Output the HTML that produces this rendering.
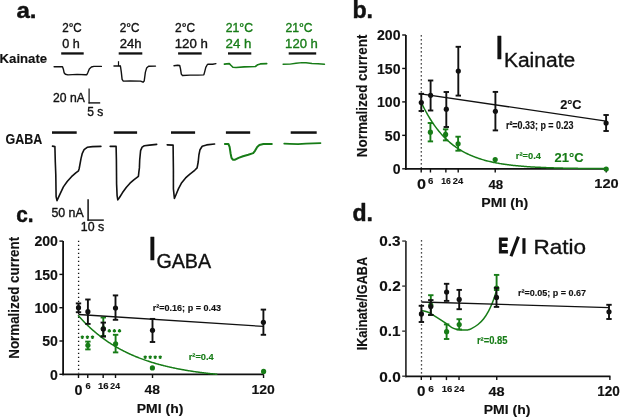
<!DOCTYPE html>
<html><head><meta charset="utf-8"><style>
html,body{margin:0;padding:0;background:#fff;}
body{width:621px;height:418px;overflow:hidden;}
svg{display:block;font-family:"Liberation Sans",sans-serif;will-change:transform;}
</style></head><body>
<svg width="621" height="418" viewBox="0 0 621 418">
<rect width="621" height="418" fill="#fff"/>
<text transform="translate(16.38,17.70) scale(0.2408,0.2259)" font-size="100" font-weight="bold" fill="#111" stroke="#111" stroke-width="1.93" stroke-linejoin="round" >a.</text>
<text transform="translate(-0.46,62.50) scale(0.1319,0.1283)" font-size="100" font-weight="bold" fill="#111" stroke="#111" stroke-width="1.08" stroke-linejoin="round" >Kainate</text>
<text transform="translate(5.50,143.70) scale(0.1249,0.1386)" font-size="100" font-weight="bold" fill="#111" stroke="#111" stroke-width="1.06" stroke-linejoin="round" >GABA</text>
<text transform="translate(62.22,31.60) scale(0.1164,0.1229)" font-size="100" font-weight="normal" fill="#111" stroke="#111" stroke-width="3.01" stroke-linejoin="round" >2°C</text>
<text transform="translate(62.20,48.40) scale(0.1261,0.1338)" font-size="100" font-weight="normal" fill="#111" stroke="#111" stroke-width="2.77" stroke-linejoin="round" >0 h</text>
<text transform="translate(119.71,31.60) scale(0.1176,0.1229)" font-size="100" font-weight="normal" fill="#111" stroke="#111" stroke-width="2.99" stroke-linejoin="round" >2°C</text>
<text transform="translate(119.65,48.40) scale(0.1310,0.1338)" font-size="100" font-weight="normal" fill="#111" stroke="#111" stroke-width="2.72" stroke-linejoin="round" >24h</text>
<text transform="translate(175.10,31.60) scale(0.1195,0.1229)" font-size="100" font-weight="normal" fill="#111" stroke="#111" stroke-width="2.97" stroke-linejoin="round" >2°C</text>
<text transform="translate(174.71,48.40) scale(0.1326,0.1338)" font-size="100" font-weight="normal" fill="#111" stroke="#111" stroke-width="2.70" stroke-linejoin="round" >120 h</text>
<text transform="translate(225.79,31.60) scale(0.1221,0.1229)" font-size="100" font-weight="normal" fill="#177c17" stroke="#177c17" stroke-width="2.94" stroke-linejoin="round" >21°C</text>
<text transform="translate(225.54,48.40) scale(0.1328,0.1338)" font-size="100" font-weight="normal" fill="#177c17" stroke="#177c17" stroke-width="2.70" stroke-linejoin="round" >24 h</text>
<text transform="translate(285.49,31.60) scale(0.1212,0.1229)" font-size="100" font-weight="normal" fill="#177c17" stroke="#177c17" stroke-width="2.95" stroke-linejoin="round" >21°C</text>
<text transform="translate(285.12,48.40) scale(0.1309,0.1338)" font-size="100" font-weight="normal" fill="#177c17" stroke="#177c17" stroke-width="2.72" stroke-linejoin="round" >120 h</text>
<rect x="61.20" y="52.30" width="22.50" height="2.30" fill="#111"/>
<rect x="118.70" y="52.30" width="23.60" height="2.30" fill="#111"/>
<rect x="178.10" y="52.30" width="23.60" height="2.30" fill="#111"/>
<rect x="228.00" y="52.30" width="23.30" height="2.30" fill="#111"/>
<rect x="288.70" y="52.30" width="27.50" height="2.30" fill="#111"/>
<rect x="52.00" y="131.30" width="24.70" height="2.50" fill="#111"/>
<rect x="113.80" y="131.30" width="23.30" height="2.50" fill="#111"/>
<rect x="171.00" y="131.30" width="24.10" height="2.50" fill="#111"/>
<rect x="225.90" y="131.30" width="24.30" height="2.50" fill="#111"/>
<rect x="290.70" y="131.30" width="26.00" height="2.50" fill="#111"/>
<polyline points="54.10,66.80 62.50,66.80 63.30,68.90 64.10,72.70 65.40,74.30 67.90,74.90 77.10,74.40 85.50,74.80 86.80,74.80 88.00,72.20 89.30,68.90 91.40,67.00 93.90,66.40 101.40,66.40" fill="none" stroke="#111" stroke-width="1.4" stroke-linejoin="round" stroke-linecap="round" />
<polyline points="114.00,66.10 120.10,66.10" fill="none" stroke="#111" stroke-width="1.5" stroke-linejoin="round" stroke-linecap="round" />
<line x1="118.50" y1="61.20" x2="118.50" y2="66.10" stroke="#111" stroke-width="1.2" />
<polyline points="120.10,66.10 120.50,66.50 121.30,72.10 122.10,79.30 123.30,81.10 130.10,81.00 140.60,81.10 143.00,82.20 144.20,81.00 145.40,72.10 146.60,68.10 148.60,66.30 155.50,66.10" fill="none" stroke="#111" stroke-width="1.4" stroke-linejoin="round" stroke-linecap="round" />
<polyline points="174.00,65.70 177.60,65.30 179.70,65.50 180.50,68.90 181.30,74.10 182.50,75.50 190.10,75.10 198.20,75.10 203.80,74.90 204.60,72.10 205.80,67.30 207.40,64.50 208.60,64.10 212.70,64.20 215.90,63.60" fill="none" stroke="#111" stroke-width="1.4" stroke-linejoin="round" stroke-linecap="round" />
<polyline points="224.40,64.10 229.30,63.60 230.90,65.30 232.90,67.30 236.10,67.50 244.20,66.90 255.40,66.50 257.80,64.70 260.30,63.90 266.70,63.60" fill="none" stroke="#177c17" stroke-width="1.6" stroke-linejoin="round" stroke-linecap="round" />
<polyline points="283.10,64.30 290.00,64.10 296.00,63.30 302.00,62.60 306.00,62.80 312.00,63.50 318.00,63.80 324.50,64.30" fill="none" stroke="#177c17" stroke-width="1.4" stroke-linejoin="round" stroke-linecap="round" />
<text transform="translate(53.09,101.90) scale(0.1215,0.1243)" font-size="100" font-weight="normal" fill="#111" stroke="#111" stroke-width="2.93" stroke-linejoin="round" >20 nA</text>
<text transform="translate(87.22,115.70) scale(0.1206,0.1232)" font-size="100" font-weight="normal" fill="#111" stroke="#111" stroke-width="2.95" stroke-linejoin="round" >5 s</text>
<line x1="89.10" y1="88.40" x2="89.10" y2="103.40" stroke="#222" stroke-width="1.3" />
<line x1="88.50" y1="102.90" x2="100.20" y2="102.90" stroke="#111" stroke-width="1.4" />
<polyline points="52.50,146.10 54.90,146.60 55.30,162.00 55.80,175.00 56.10,196.60 57.00,200.60 58.60,197.10 60.80,192.30 63.40,186.90 67.20,181.50 71.50,176.70 75.80,172.90 78.50,170.80 79.20,168.50 81.00,158.60 82.30,153.30 84.10,149.70 87.20,147.30 92.50,146.60 100.90,146.40" fill="none" stroke="#111" stroke-width="1.6" stroke-linejoin="round" stroke-linecap="round" />
<polyline points="110.20,146.40 116.10,146.20 116.40,160.00 116.60,184.10 117.10,195.60 117.80,199.90 119.50,197.50 122.40,192.80 126.20,187.50 130.00,183.20 133.80,179.80 138.40,176.30 138.80,172.70 139.40,167.90 139.70,160.00 140.60,150.60 142.10,147.10 144.30,145.80 149.60,145.10 156.70,144.40" fill="none" stroke="#111" stroke-width="1.6" stroke-linejoin="round" stroke-linecap="round" />
<polyline points="167.20,144.90 173.10,145.10 173.40,170.00 173.40,188.90 174.40,198.50 176.00,194.70 178.40,188.90 181.70,182.70 185.60,177.90 189.90,174.10 194.70,170.30 197.10,167.90 198.20,162.00 198.90,155.00 200.00,149.70 202.20,146.20 206.60,144.90 214.60,144.00" fill="none" stroke="#111" stroke-width="1.6" stroke-linejoin="round" stroke-linecap="round" />
<polyline points="224.90,144.00 228.40,144.00 229.60,146.90 230.60,153.50 231.50,157.90 232.80,159.70 235.10,159.70 238.60,157.90 243.00,156.20 248.30,154.70 253.20,153.10 255.00,150.80 257.20,146.90 259.40,144.90 263.40,144.00 271.80,144.00" fill="none" stroke="#177c17" stroke-width="2.0" stroke-linejoin="round" stroke-linecap="round" />
<polyline points="284.20,143.60 290.00,143.90 298.00,144.20 306.00,143.60 313.00,143.30 320.50,143.10" fill="none" stroke="#177c17" stroke-width="1.7" stroke-linejoin="round" stroke-linecap="round" />
<text transform="translate(51.41,216.70) scale(0.1237,0.1243)" font-size="100" font-weight="normal" fill="#111" stroke="#111" stroke-width="2.90" stroke-linejoin="round" >50 nA</text>
<text transform="translate(80.87,230.70) scale(0.1236,0.1229)" font-size="100" font-weight="normal" fill="#111" stroke="#111" stroke-width="2.92" stroke-linejoin="round" >10 s</text>
<line x1="88.10" y1="199.30" x2="88.10" y2="220.80" stroke="#111" stroke-width="1.5" />
<line x1="87.50" y1="220.10" x2="103.80" y2="220.10" stroke="#111" stroke-width="1.4" />
<text transform="translate(352.39,17.70) scale(0.2318,0.2331)" font-size="100" font-weight="bold" fill="#111" stroke="#111" stroke-width="1.94" stroke-linejoin="round" >b.</text>
<line x1="405.90" y1="35.00" x2="405.90" y2="169.70" stroke="#111" stroke-width="1.8" />
<line x1="405.00" y1="168.80" x2="606.24" y2="168.80" stroke="#111" stroke-width="1.8" />
<line x1="402.20" y1="168.80" x2="405.90" y2="168.80" stroke="#111" stroke-width="1.4" />
<line x1="402.20" y1="135.35" x2="405.90" y2="135.35" stroke="#111" stroke-width="1.4" />
<line x1="402.20" y1="101.90" x2="405.90" y2="101.90" stroke="#111" stroke-width="1.4" />
<line x1="402.20" y1="68.45" x2="405.90" y2="68.45" stroke="#111" stroke-width="1.4" />
<line x1="402.20" y1="35.00" x2="405.90" y2="35.00" stroke="#111" stroke-width="1.4" />
<line x1="421.20" y1="168.80" x2="421.20" y2="172.50" stroke="#111" stroke-width="1.4" />
<line x1="430.45" y1="168.80" x2="430.45" y2="172.50" stroke="#111" stroke-width="1.4" />
<line x1="445.87" y1="168.80" x2="445.87" y2="172.50" stroke="#111" stroke-width="1.4" />
<line x1="458.21" y1="168.80" x2="458.21" y2="172.50" stroke="#111" stroke-width="1.4" />
<line x1="495.22" y1="168.80" x2="495.22" y2="172.50" stroke="#111" stroke-width="1.4" />
<line x1="606.24" y1="168.80" x2="606.24" y2="172.50" stroke="#111" stroke-width="1.4" />
<line x1="421.30" y1="35.15" x2="421.30" y2="168.00" stroke="#111" stroke-width="1.3" stroke-dasharray="1.3 2.7"/>
<text transform="translate(367.20,156.30) rotate(-90) translate(-0.88,0) scale(0.1347,0.1448)" font-size="100" font-weight="bold" fill="#111" stroke="#111" stroke-width="0.86" stroke-linejoin="round">Normalized current</text>
<text transform="translate(376.99,40.20) scale(0.1410,0.1386)" font-size="100" font-weight="bold" fill="#111" stroke="#111" stroke-width="1.00" stroke-linejoin="round" >200</text>
<text transform="translate(376.99,73.65) scale(0.1410,0.1386)" font-size="100" font-weight="bold" fill="#111" stroke="#111" stroke-width="1.00" stroke-linejoin="round" >150</text>
<text transform="translate(376.99,107.10) scale(0.1410,0.1386)" font-size="100" font-weight="bold" fill="#111" stroke="#111" stroke-width="1.00" stroke-linejoin="round" >100</text>
<text transform="translate(384.81,140.55) scale(0.1410,0.1386)" font-size="100" font-weight="bold" fill="#111" stroke="#111" stroke-width="1.00" stroke-linejoin="round" >50</text>
<text transform="translate(392.64,174.00) scale(0.1410,0.1386)" font-size="100" font-weight="bold" fill="#111" stroke="#111" stroke-width="1.00" stroke-linejoin="round" >0</text>
<text transform="translate(417.05,188.70) scale(0.1621,0.1514)" font-size="100" font-weight="bold" fill="#111" stroke="#111" stroke-width="0.89" stroke-linejoin="round" >0</text>
<text transform="translate(428.06,183.70) scale(0.0969,0.0957)" font-size="100" font-weight="bold" fill="#111" stroke="#111" stroke-width="1.45" stroke-linejoin="round" >6</text>
<text transform="translate(441.29,183.60) scale(0.0857,0.0886)" font-size="100" font-weight="bold" fill="#111" stroke="#111" stroke-width="1.61" stroke-linejoin="round" >16</text>
<text transform="translate(452.77,183.60) scale(0.0935,0.0886)" font-size="100" font-weight="bold" fill="#111" stroke="#111" stroke-width="1.54" stroke-linejoin="round" >24</text>
<text transform="translate(488.40,188.60) scale(0.1324,0.1300)" font-size="100" font-weight="bold" fill="#111" stroke="#111" stroke-width="1.07" stroke-linejoin="round" >48</text>
<text transform="translate(594.32,188.20) scale(0.1463,0.1300)" font-size="100" font-weight="bold" fill="#111" stroke="#111" stroke-width="1.01" stroke-linejoin="round" >120</text>
<text transform="translate(481.28,206.60) scale(0.1413,0.1228)" font-size="100" font-weight="bold" fill="#111" stroke="#111" stroke-width="1.06" stroke-linejoin="round" >PMI (h)</text>
<text transform="translate(494.28,58.50) scale(0.3684,0.3290)" font-size="100" font-weight="normal" fill="#111" stroke="#111" stroke-width="1.03" stroke-linejoin="round" >I</text>
<text transform="translate(503.92,67.00) scale(0.2101,0.2041)" font-size="100" font-weight="normal" fill="#111" stroke="#111" stroke-width="1.74" stroke-linejoin="round" >Kainate</text>
<text transform="translate(560.15,109.10) scale(0.1276,0.1286)" font-size="100" font-weight="bold" fill="#111" stroke="#111" stroke-width="1.09" stroke-linejoin="round" >2°C</text>
<text transform="translate(505.92,129.10) scale(0.0894,0.1043)" font-size="100" font-weight="bold" fill="#111" stroke="#111" stroke-width="1.45" stroke-linejoin="round" >r²=0.33; p = 0.23</text>
<text transform="translate(515.79,159.10) scale(0.0933,0.0971)" font-size="100" font-weight="bold" fill="#177c17" stroke="#177c17" stroke-width="1.47" stroke-linejoin="round" >r²=0.4</text>
<text transform="translate(554.55,161.60) scale(0.1295,0.1271)" font-size="100" font-weight="bold" fill="#177c17" stroke="#177c17" stroke-width="1.09" stroke-linejoin="round" >21°C</text>
<polyline points="421.20,102.23 422.13,104.20 423.06,106.11 423.99,107.97 424.92,109.77 425.85,111.52 426.78,113.21 427.71,114.85 428.64,116.45 429.57,118.00 430.50,119.50 431.43,120.96 432.36,122.38 433.29,123.75 434.22,125.08 435.15,126.38 436.08,127.63 437.01,128.85 437.94,130.03 438.87,131.18 439.80,132.29 440.73,133.37 441.66,134.42 442.59,135.44 443.52,136.42 444.45,137.38 445.38,138.31 446.31,139.21 447.24,140.09 448.17,140.94 449.10,141.76 450.03,142.56 450.96,143.34 451.89,144.09 452.81,144.82 453.74,145.53 454.67,146.22 455.60,146.89 456.53,147.54 457.46,148.16 458.39,148.78 459.32,149.37 460.25,149.94 461.18,150.50 462.11,151.04 463.04,151.57 463.97,152.08 464.90,152.57 465.83,153.05 466.76,153.52 467.69,153.97 468.62,154.41 469.55,154.83 470.48,155.25 471.41,155.65 472.34,156.04 473.27,156.41 474.20,156.78 475.13,157.14 476.06,157.48 476.99,157.82 477.92,158.14 478.85,158.46 479.78,158.76 480.71,159.06 481.64,159.35 482.57,159.63 483.50,159.90 484.43,160.16 485.36,160.42 486.29,160.67 487.22,160.91 488.15,161.14 489.08,161.37 490.01,161.59 490.94,161.80 491.87,162.01 492.80,162.21 493.73,162.40 494.66,162.59 495.59,162.78 496.52,162.95 497.45,163.13 498.38,163.29 499.31,163.46 500.24,163.62 501.17,163.77 502.10,163.92 503.03,164.06 503.96,164.20 504.89,164.34 505.82,164.47 506.75,164.60 507.68,164.72 508.61,164.84 509.54,164.96 510.47,165.07 511.40,165.18 512.33,165.29 513.26,165.40 514.18,165.50 515.11,165.59 516.04,165.69 516.97,165.78 517.90,165.87 518.83,165.96 519.76,166.04 520.69,166.12 521.62,166.20 522.55,166.28 523.48,166.35 524.41,166.43 525.34,166.50 526.27,166.56 527.20,166.63 528.13,166.69 529.06,166.76 529.99,166.82 530.92,166.88 531.85,166.93 532.78,166.99 533.71,167.04 534.64,167.09 535.57,167.14 536.50,167.19 537.43,167.24 538.36,167.29 539.29,167.33 540.22,167.37 541.15,167.42 542.08,167.46 543.01,167.50 543.94,167.54 544.87,167.57 545.80,167.61 546.73,167.64 547.66,167.68 548.59,167.71 549.52,167.74 550.45,167.78 551.38,167.81 552.31,167.84 553.24,167.86 554.17,167.89 555.10,167.92 556.03,167.94 556.96,167.97 557.89,167.99 558.82,168.02 559.75,168.04 560.68,168.06 561.61,168.09 562.54,168.11 563.47,168.13 564.40,168.15 565.33,168.17 566.26,168.19 567.19,168.20 568.12,168.22 569.05,168.24 569.98,168.25 570.91,168.27 571.84,168.29 572.77,168.30 573.70,168.32 574.63,168.33 575.55,168.34 576.48,168.36 577.41,168.37 578.34,168.38 579.27,168.40 580.20,168.41 581.13,168.42 582.06,168.43 582.99,168.44 583.92,168.45 584.85,168.46 585.78,168.47 586.71,168.48 587.64,168.49 588.57,168.50 589.50,168.51 590.43,168.52 591.36,168.53 592.29,168.53 593.22,168.54 594.15,168.55 595.08,168.56 596.01,168.56 596.94,168.57 597.87,168.58 598.80,168.59 599.73,168.59 600.66,168.60 601.59,168.60 602.52,168.61 603.45,168.62 604.38,168.62 605.31,168.63 606.24,168.63" fill="none" stroke="#177c17" stroke-width="1.5" stroke-linejoin="round" stroke-linecap="round" />
<line x1="430.40" y1="123.00" x2="430.40" y2="141.40" stroke="#177c17" stroke-width="1.9" />
<line x1="427.70" y1="123.00" x2="433.10" y2="123.00" stroke="#177c17" stroke-width="1.9" />
<line x1="427.70" y1="141.40" x2="433.10" y2="141.40" stroke="#177c17" stroke-width="1.9" />
<circle cx="430.40" cy="132.20" r="2.6" fill="#177c17"/>
<line x1="445.60" y1="129.30" x2="445.60" y2="140.40" stroke="#177c17" stroke-width="1.9" />
<line x1="442.90" y1="129.30" x2="448.30" y2="129.30" stroke="#177c17" stroke-width="1.9" />
<line x1="442.90" y1="140.40" x2="448.30" y2="140.40" stroke="#177c17" stroke-width="1.9" />
<circle cx="445.60" cy="134.40" r="2.6" fill="#177c17"/>
<line x1="458.10" y1="136.70" x2="458.10" y2="150.70" stroke="#177c17" stroke-width="1.9" />
<line x1="455.40" y1="136.70" x2="460.80" y2="136.70" stroke="#177c17" stroke-width="1.9" />
<line x1="455.40" y1="150.70" x2="460.80" y2="150.70" stroke="#177c17" stroke-width="1.9" />
<circle cx="458.10" cy="143.80" r="2.6" fill="#177c17"/>
<circle cx="495.20" cy="159.50" r="2.6" fill="#177c17"/>
<circle cx="606.20" cy="169.00" r="2.6" fill="#177c17"/>
<line x1="419.00" y1="93.60" x2="606.20" y2="121.10" stroke="#111" stroke-width="1.3" />
<line x1="421.30" y1="93.80" x2="421.30" y2="111.00" stroke="#111" stroke-width="1.9" />
<line x1="418.60" y1="93.80" x2="424.00" y2="93.80" stroke="#111" stroke-width="1.9" />
<line x1="418.60" y1="111.00" x2="424.00" y2="111.00" stroke="#111" stroke-width="1.9" />
<circle cx="421.30" cy="102.60" r="2.6" fill="#111"/>
<line x1="430.60" y1="80.50" x2="430.60" y2="110.50" stroke="#111" stroke-width="1.9" />
<line x1="427.90" y1="80.50" x2="433.30" y2="80.50" stroke="#111" stroke-width="1.9" />
<line x1="427.90" y1="110.50" x2="433.30" y2="110.50" stroke="#111" stroke-width="1.9" />
<circle cx="430.60" cy="95.30" r="2.6" fill="#111"/>
<line x1="446.30" y1="92.00" x2="446.30" y2="127.00" stroke="#111" stroke-width="1.9" />
<line x1="443.60" y1="92.00" x2="449.00" y2="92.00" stroke="#111" stroke-width="1.9" />
<line x1="443.60" y1="127.00" x2="449.00" y2="127.00" stroke="#111" stroke-width="1.9" />
<circle cx="446.30" cy="109.20" r="2.6" fill="#111"/>
<line x1="458.30" y1="46.80" x2="458.30" y2="95.60" stroke="#111" stroke-width="1.9" />
<line x1="455.60" y1="46.80" x2="461.00" y2="46.80" stroke="#111" stroke-width="1.9" />
<line x1="455.60" y1="95.60" x2="461.00" y2="95.60" stroke="#111" stroke-width="1.9" />
<circle cx="458.30" cy="71.10" r="2.6" fill="#111"/>
<line x1="495.40" y1="91.90" x2="495.40" y2="130.40" stroke="#111" stroke-width="1.9" />
<line x1="492.70" y1="91.90" x2="498.10" y2="91.90" stroke="#111" stroke-width="1.9" />
<line x1="492.70" y1="130.40" x2="498.10" y2="130.40" stroke="#111" stroke-width="1.9" />
<circle cx="495.40" cy="111.30" r="2.6" fill="#111"/>
<line x1="606.10" y1="115.00" x2="606.10" y2="131.00" stroke="#111" stroke-width="1.9" />
<line x1="603.40" y1="115.00" x2="608.80" y2="115.00" stroke="#111" stroke-width="1.9" />
<line x1="603.40" y1="131.00" x2="608.80" y2="131.00" stroke="#111" stroke-width="1.9" />
<circle cx="606.10" cy="123.00" r="2.6" fill="#111"/>
<text transform="translate(16.27,221.90) scale(0.2083,0.2259)" font-size="100" font-weight="bold" fill="#111" stroke="#111" stroke-width="2.07" stroke-linejoin="round" >c.</text>
<line x1="63.10" y1="241.10" x2="63.10" y2="375.20" stroke="#111" stroke-width="1.8" />
<line x1="62.20" y1="374.30" x2="263.54" y2="374.30" stroke="#111" stroke-width="1.8" />
<line x1="59.40" y1="374.30" x2="63.10" y2="374.30" stroke="#111" stroke-width="1.4" />
<line x1="59.40" y1="341.00" x2="63.10" y2="341.00" stroke="#111" stroke-width="1.4" />
<line x1="59.40" y1="307.70" x2="63.10" y2="307.70" stroke="#111" stroke-width="1.4" />
<line x1="59.40" y1="274.40" x2="63.10" y2="274.40" stroke="#111" stroke-width="1.4" />
<line x1="59.40" y1="241.10" x2="63.10" y2="241.10" stroke="#111" stroke-width="1.4" />
<line x1="78.50" y1="374.30" x2="78.50" y2="378.00" stroke="#111" stroke-width="1.4" />
<line x1="87.75" y1="374.30" x2="87.75" y2="378.00" stroke="#111" stroke-width="1.4" />
<line x1="103.17" y1="374.30" x2="103.17" y2="378.00" stroke="#111" stroke-width="1.4" />
<line x1="115.51" y1="374.30" x2="115.51" y2="378.00" stroke="#111" stroke-width="1.4" />
<line x1="152.52" y1="374.30" x2="152.52" y2="378.00" stroke="#111" stroke-width="1.4" />
<line x1="263.54" y1="374.30" x2="263.54" y2="378.00" stroke="#111" stroke-width="1.4" />
<line x1="78.60" y1="240.65" x2="78.60" y2="373.50" stroke="#111" stroke-width="1.3" stroke-dasharray="1.3 2.7"/>
<text transform="translate(19.40,357.90) rotate(-90) translate(-0.87,0) scale(0.1339,0.1421)" font-size="100" font-weight="bold" fill="#111" stroke="#111" stroke-width="0.87" stroke-linejoin="round">Normalized current</text>
<text transform="translate(34.39,246.30) scale(0.1410,0.1386)" font-size="100" font-weight="bold" fill="#111" stroke="#111" stroke-width="1.00" stroke-linejoin="round" >200</text>
<text transform="translate(34.39,279.60) scale(0.1410,0.1386)" font-size="100" font-weight="bold" fill="#111" stroke="#111" stroke-width="1.00" stroke-linejoin="round" >150</text>
<text transform="translate(34.39,312.90) scale(0.1410,0.1386)" font-size="100" font-weight="bold" fill="#111" stroke="#111" stroke-width="1.00" stroke-linejoin="round" >100</text>
<text transform="translate(42.21,346.20) scale(0.1410,0.1386)" font-size="100" font-weight="bold" fill="#111" stroke="#111" stroke-width="1.00" stroke-linejoin="round" >50</text>
<text transform="translate(50.04,379.50) scale(0.1410,0.1386)" font-size="100" font-weight="bold" fill="#111" stroke="#111" stroke-width="1.00" stroke-linejoin="round" >0</text>
<text transform="translate(74.53,394.80) scale(0.1432,0.1400)" font-size="100" font-weight="bold" fill="#111" stroke="#111" stroke-width="0.99" stroke-linejoin="round" >0</text>
<text transform="translate(85.38,389.00) scale(0.0928,0.0829)" font-size="100" font-weight="bold" fill="#111" stroke="#111" stroke-width="1.59" stroke-linejoin="round" >6</text>
<text transform="translate(98.03,389.40) scale(0.0956,0.0886)" font-size="100" font-weight="bold" fill="#111" stroke="#111" stroke-width="1.52" stroke-linejoin="round" >16</text>
<text transform="translate(110.30,389.40) scale(0.0869,0.0886)" font-size="100" font-weight="bold" fill="#111" stroke="#111" stroke-width="1.60" stroke-linejoin="round" >24</text>
<text transform="translate(144.59,394.40) scale(0.1390,0.1357)" font-size="100" font-weight="bold" fill="#111" stroke="#111" stroke-width="1.02" stroke-linejoin="round" >48</text>
<text transform="translate(251.56,393.70) scale(0.1399,0.1357)" font-size="100" font-weight="bold" fill="#111" stroke="#111" stroke-width="1.02" stroke-linejoin="round" >120</text>
<text transform="translate(136.79,412.90) scale(0.1398,0.1269)" font-size="100" font-weight="bold" fill="#111" stroke="#111" stroke-width="1.05" stroke-linejoin="round" >PMI (h)</text>
<text transform="translate(147.28,259.80) scale(0.3684,0.3304)" font-size="100" font-weight="normal" fill="#111" stroke="#111" stroke-width="1.03" stroke-linejoin="round" >I</text>
<text transform="translate(156.41,267.90) scale(0.1971,0.2043)" font-size="100" font-weight="normal" fill="#111" stroke="#111" stroke-width="1.79" stroke-linejoin="round" >GABA</text>
<text transform="translate(152.71,310.80) scale(0.0905,0.0971)" font-size="100" font-weight="bold" fill="#111" stroke="#111" stroke-width="1.49" stroke-linejoin="round" >r²=0.16; p = 0.43</text>
<text transform="translate(188.70,360.20) scale(0.0930,0.0929)" font-size="100" font-weight="bold" fill="#177c17" stroke="#177c17" stroke-width="1.51" stroke-linejoin="round" >r²=0.4</text>
<polyline points="78.40,315.76 79.10,316.54 79.79,317.31 80.49,318.08 81.18,318.83 81.88,319.58 82.57,320.31 83.27,321.04 83.96,321.76 84.66,322.47 85.35,323.17 86.05,323.86 86.75,324.54 87.44,325.22 88.14,325.88 88.83,326.54 89.53,327.19 90.22,327.83 90.92,328.47 91.61,329.10 92.31,329.72 93.01,330.33 93.70,330.93 94.40,331.53 95.09,332.12 95.79,332.70 96.48,333.28 97.18,333.84 97.87,334.41 98.57,334.96 99.26,335.51 99.96,336.05 100.66,336.58 101.35,337.11 102.05,337.63 102.74,338.15 103.44,338.66 104.13,339.16 104.83,339.66 105.52,340.15 106.22,340.63 106.91,341.11 107.61,341.58 108.31,342.05 109.00,342.51 109.70,342.97 110.39,343.42 111.09,343.86 111.78,344.30 112.48,344.74 113.17,345.17 113.87,345.59 114.56,346.01 115.26,346.42 115.96,346.83 116.65,347.23 117.35,347.63 118.04,348.02 118.74,348.41 119.43,348.79 120.13,349.17 120.82,349.55 121.52,349.92 122.22,350.28 122.91,350.64 123.61,351.00 124.30,351.35 125.00,351.70 125.69,352.04 126.39,352.38 127.08,352.72 127.78,353.05 128.47,353.38 129.17,353.70 129.87,354.02 130.56,354.34 131.26,354.65 131.95,354.96 132.65,355.26 133.34,355.56 134.04,355.86 134.73,356.15 135.43,356.44 136.12,356.72 136.82,357.01 137.52,357.29 138.21,357.56 138.91,357.83 139.60,358.10 140.30,358.37 140.99,358.63 141.69,358.89 142.38,359.14 143.08,359.40 143.77,359.65 144.47,359.89 145.17,360.14 145.86,360.38 146.56,360.62 147.25,360.85 147.95,361.08 148.64,361.31 149.34,361.54 150.03,361.76 150.73,361.98 151.43,362.20 152.12,362.42 152.82,362.63 153.51,362.84 154.21,363.05 154.90,363.25 155.60,363.46 156.29,363.66 156.99,363.85 157.68,364.05 158.38,364.24 159.08,364.43 159.77,364.62 160.47,364.81 161.16,364.99 161.86,365.17 162.55,365.35 163.25,365.53 163.94,365.70 164.64,365.88 165.33,366.05 166.03,366.22 166.73,366.38 167.42,366.55 168.12,366.71 168.81,366.87 169.51,367.03 170.20,367.19 170.90,367.34 171.59,367.49 172.29,367.64 172.98,367.79 173.68,367.94 174.38,368.09 175.07,368.23 175.77,368.37 176.46,368.51 177.16,368.65 177.85,368.79 178.55,368.92 179.24,369.06 179.94,369.19 180.64,369.32 181.33,369.45 182.03,369.57 182.72,369.70 183.42,369.82 184.11,369.95 184.81,370.07 185.50,370.19 186.20,370.31 186.89,370.42 187.59,370.54 188.29,370.65 188.98,370.76 189.68,370.87 190.37,370.98 191.07,371.09 191.76,371.20 192.46,371.31 193.15,371.41 193.85,371.51 194.54,371.62 195.24,371.72 195.94,371.82 196.63,371.91 197.33,372.01 198.02,372.11 198.72,372.20 199.41,372.30 200.11,372.39 200.80,372.48 201.50,372.57 202.19,372.66 202.89,372.75 203.59,372.83 204.28,372.92 204.98,373.00 205.67,373.09 206.37,373.17 207.06,373.25 207.76,373.33 208.45,373.41 209.15,373.49 209.85,373.57 210.54,373.65 211.24,373.72 211.93,373.80 212.63,373.87 213.32,373.94 214.02,374.02 214.71,374.09 215.41,374.16 216.10,374.23 216.80,374.30" fill="none" stroke="#177c17" stroke-width="1.5" stroke-linejoin="round" stroke-linecap="round" />
<line x1="103.30" y1="317.50" x2="103.30" y2="336.00" stroke="#177c17" stroke-width="1.9" />
<line x1="100.60" y1="317.50" x2="106.00" y2="317.50" stroke="#177c17" stroke-width="1.9" />
<line x1="100.60" y1="336.00" x2="106.00" y2="336.00" stroke="#177c17" stroke-width="1.9" />
<circle cx="103.30" cy="328.50" r="2.6" fill="#177c17"/>
<line x1="87.90" y1="341.60" x2="87.90" y2="349.40" stroke="#177c17" stroke-width="1.9" />
<line x1="85.20" y1="341.60" x2="90.60" y2="341.60" stroke="#177c17" stroke-width="1.9" />
<line x1="85.20" y1="349.40" x2="90.60" y2="349.40" stroke="#177c17" stroke-width="1.9" />
<circle cx="87.90" cy="345.30" r="2.6" fill="#177c17"/>
<line x1="115.60" y1="334.80" x2="115.60" y2="352.40" stroke="#177c17" stroke-width="1.9" />
<line x1="112.90" y1="334.80" x2="118.30" y2="334.80" stroke="#177c17" stroke-width="1.9" />
<line x1="112.90" y1="352.40" x2="118.30" y2="352.40" stroke="#177c17" stroke-width="1.9" />
<circle cx="115.60" cy="343.80" r="2.6" fill="#177c17"/>
<circle cx="152.40" cy="367.90" r="2.6" fill="#177c17"/>
<circle cx="263.60" cy="371.40" r="2.6" fill="#177c17"/>
<path d="M82.30,335.45L82.30,338.95M80.78,336.32L83.82,338.07M80.78,338.07L83.82,336.32" stroke="#177c17" stroke-width="1.25" fill="none"/>
<circle cx="82.30" cy="337.20" r="1.0" fill="#177c17"/>
<path d="M87.40,335.45L87.40,338.95M85.88,336.32L88.92,338.07M85.88,338.07L88.92,336.32" stroke="#177c17" stroke-width="1.25" fill="none"/>
<circle cx="87.40" cy="337.20" r="1.0" fill="#177c17"/>
<path d="M92.50,335.45L92.50,338.95M90.98,336.32L94.02,338.07M90.98,338.07L94.02,336.32" stroke="#177c17" stroke-width="1.25" fill="none"/>
<circle cx="92.50" cy="337.20" r="1.0" fill="#177c17"/>
<path d="M109.30,329.05L109.30,332.55M107.78,329.93L110.82,331.68M107.78,331.68L110.82,329.93" stroke="#177c17" stroke-width="1.25" fill="none"/>
<circle cx="109.30" cy="330.80" r="1.0" fill="#177c17"/>
<path d="M114.40,329.05L114.40,332.55M112.88,329.93L115.92,331.68M112.88,331.68L115.92,329.93" stroke="#177c17" stroke-width="1.25" fill="none"/>
<circle cx="114.40" cy="330.80" r="1.0" fill="#177c17"/>
<path d="M119.50,329.05L119.50,332.55M117.98,329.93L121.02,331.68M117.98,331.68L121.02,329.93" stroke="#177c17" stroke-width="1.25" fill="none"/>
<circle cx="119.50" cy="330.80" r="1.0" fill="#177c17"/>
<path d="M145.20,355.45L145.20,358.95M143.68,356.32L146.72,358.07M143.68,358.07L146.72,356.32" stroke="#177c17" stroke-width="1.25" fill="none"/>
<circle cx="145.20" cy="357.20" r="1.0" fill="#177c17"/>
<path d="M150.20,355.45L150.20,358.95M148.68,356.32L151.72,358.07M148.68,358.07L151.72,356.32" stroke="#177c17" stroke-width="1.25" fill="none"/>
<circle cx="150.20" cy="357.20" r="1.0" fill="#177c17"/>
<path d="M155.20,355.45L155.20,358.95M153.68,356.32L156.72,358.07M153.68,358.07L156.72,356.32" stroke="#177c17" stroke-width="1.25" fill="none"/>
<circle cx="155.20" cy="357.20" r="1.0" fill="#177c17"/>
<path d="M160.20,355.45L160.20,358.95M158.68,356.32L161.72,358.07M158.68,358.07L161.72,356.32" stroke="#177c17" stroke-width="1.25" fill="none"/>
<circle cx="160.20" cy="357.20" r="1.0" fill="#177c17"/>
<line x1="78.50" y1="314.50" x2="263.40" y2="326.40" stroke="#111" stroke-width="1.3" />
<line x1="78.50" y1="303.40" x2="78.50" y2="312.20" stroke="#111" stroke-width="1.9" />
<line x1="75.80" y1="303.40" x2="81.20" y2="303.40" stroke="#111" stroke-width="1.9" />
<line x1="75.80" y1="312.20" x2="81.20" y2="312.20" stroke="#111" stroke-width="1.9" />
<circle cx="78.50" cy="307.70" r="2.6" fill="#111"/>
<line x1="87.90" y1="299.50" x2="87.90" y2="323.90" stroke="#111" stroke-width="1.9" />
<line x1="85.20" y1="299.50" x2="90.60" y2="299.50" stroke="#111" stroke-width="1.9" />
<line x1="85.20" y1="323.90" x2="90.60" y2="323.90" stroke="#111" stroke-width="1.9" />
<circle cx="87.90" cy="311.70" r="2.6" fill="#111"/>
<line x1="103.30" y1="322.60" x2="103.30" y2="336.60" stroke="#111" stroke-width="1.9" />
<line x1="100.60" y1="322.60" x2="106.00" y2="322.60" stroke="#111" stroke-width="1.9" />
<line x1="100.60" y1="336.60" x2="106.00" y2="336.60" stroke="#111" stroke-width="1.9" />
<circle cx="103.30" cy="329.00" r="2.6" fill="#111"/>
<line x1="115.50" y1="295.40" x2="115.50" y2="319.80" stroke="#111" stroke-width="1.9" />
<line x1="112.80" y1="295.40" x2="118.20" y2="295.40" stroke="#111" stroke-width="1.9" />
<line x1="112.80" y1="319.80" x2="118.20" y2="319.80" stroke="#111" stroke-width="1.9" />
<circle cx="115.50" cy="308.00" r="2.6" fill="#111"/>
<line x1="152.50" y1="318.90" x2="152.50" y2="342.00" stroke="#111" stroke-width="1.9" />
<line x1="149.80" y1="318.90" x2="155.20" y2="318.90" stroke="#111" stroke-width="1.9" />
<line x1="149.80" y1="342.00" x2="155.20" y2="342.00" stroke="#111" stroke-width="1.9" />
<circle cx="152.50" cy="330.30" r="2.6" fill="#111"/>
<line x1="263.40" y1="309.60" x2="263.40" y2="334.80" stroke="#111" stroke-width="1.9" />
<line x1="260.70" y1="309.60" x2="266.10" y2="309.60" stroke="#111" stroke-width="1.9" />
<line x1="260.70" y1="334.80" x2="266.10" y2="334.80" stroke="#111" stroke-width="1.9" />
<circle cx="263.40" cy="322.30" r="2.6" fill="#111"/>
<text transform="translate(352.48,221.20) scale(0.2308,0.2317)" font-size="100" font-weight="bold" fill="#111" stroke="#111" stroke-width="1.95" stroke-linejoin="round" >d.</text>
<line x1="405.90" y1="241.05" x2="405.90" y2="377.30" stroke="#383838" stroke-width="1.8" />
<line x1="405.00" y1="376.40" x2="610.48" y2="376.40" stroke="#111" stroke-width="1.8" />
<line x1="402.20" y1="376.20" x2="405.90" y2="376.20" stroke="#383838" stroke-width="1.4" />
<line x1="402.20" y1="331.15" x2="405.90" y2="331.15" stroke="#383838" stroke-width="1.4" />
<line x1="402.20" y1="286.10" x2="405.90" y2="286.10" stroke="#383838" stroke-width="1.4" />
<line x1="402.20" y1="241.05" x2="405.90" y2="241.05" stroke="#383838" stroke-width="1.4" />
<line x1="421.30" y1="376.40" x2="421.30" y2="380.10" stroke="#111" stroke-width="1.4" />
<line x1="430.73" y1="376.40" x2="430.73" y2="380.10" stroke="#111" stroke-width="1.4" />
<line x1="446.44" y1="376.40" x2="446.44" y2="380.10" stroke="#111" stroke-width="1.4" />
<line x1="459.02" y1="376.40" x2="459.02" y2="380.10" stroke="#111" stroke-width="1.4" />
<line x1="496.73" y1="376.40" x2="496.73" y2="380.10" stroke="#111" stroke-width="1.4" />
<line x1="609.88" y1="376.40" x2="609.88" y2="380.10" stroke="#111" stroke-width="1.4" />
<line x1="421.50" y1="240.25" x2="421.50" y2="375.40" stroke="#111" stroke-width="1.3" stroke-dasharray="1.3 2.7"/>
<text transform="translate(367.20,349.50) rotate(-90) translate(-0.82,0) scale(0.1264,0.1379)" font-size="100" font-weight="bold" fill="#111" stroke="#111" stroke-width="0.91" stroke-linejoin="round">IKainate/IGABA</text>
<text transform="translate(379.29,246.35) scale(0.1536,0.1400)" font-size="100" font-weight="bold" fill="#111" stroke="#111" stroke-width="0.95" stroke-linejoin="round" >0.3</text>
<text transform="translate(379.28,291.40) scale(0.1542,0.1400)" font-size="100" font-weight="bold" fill="#111" stroke="#111" stroke-width="0.95" stroke-linejoin="round" >0.2</text>
<text transform="translate(379.29,336.45) scale(0.1525,0.1400)" font-size="100" font-weight="bold" fill="#111" stroke="#111" stroke-width="0.96" stroke-linejoin="round" >0.1</text>
<text transform="translate(379.28,381.50) scale(0.1542,0.1400)" font-size="100" font-weight="bold" fill="#111" stroke="#111" stroke-width="0.95" stroke-linejoin="round" >0.0</text>
<text transform="translate(417.09,396.10) scale(0.1516,0.1400)" font-size="100" font-weight="bold" fill="#111" stroke="#111" stroke-width="0.96" stroke-linejoin="round" >0</text>
<text transform="translate(428.25,391.60) scale(0.1010,0.0857)" font-size="100" font-weight="bold" fill="#111" stroke="#111" stroke-width="1.50" stroke-linejoin="round" >6</text>
<text transform="translate(441.63,391.80) scale(0.0956,0.0900)" font-size="100" font-weight="bold" fill="#111" stroke="#111" stroke-width="1.51" stroke-linejoin="round" >16</text>
<text transform="translate(454.07,391.80) scale(0.0935,0.0900)" font-size="100" font-weight="bold" fill="#111" stroke="#111" stroke-width="1.53" stroke-linejoin="round" >24</text>
<text transform="translate(488.38,396.40) scale(0.1455,0.1300)" font-size="100" font-weight="bold" fill="#111" stroke="#111" stroke-width="1.02" stroke-linejoin="round" >48</text>
<text transform="translate(597.18,396.40) scale(0.1361,0.1500)" font-size="100" font-weight="bold" fill="#111" stroke="#111" stroke-width="0.98" stroke-linejoin="round" >120</text>
<text transform="translate(483.69,414.30) scale(0.1401,0.1269)" font-size="100" font-weight="bold" fill="#111" stroke="#111" stroke-width="1.05" stroke-linejoin="round" >PMI (h)</text>
<text transform="translate(498.22,253.40) scale(0.1504,0.2145)" font-size="100" font-weight="bold" fill="#111" stroke="#111" stroke-width="4.93" stroke-linejoin="round" >E</text>
<line x1="511.00" y1="256.20" x2="518.40" y2="236.60" stroke="#111" stroke-width="3.1" stroke-linecap="butt"/>
<rect x="522.40" y="238.20" width="3.10" height="15.60" fill="#111"/>
<text transform="translate(533.50,253.70) scale(0.2253,0.2110)" font-size="100" font-weight="normal" fill="#111" stroke="#111" stroke-width="1.65" stroke-linejoin="round" >Ratio</text>
<text transform="translate(517.91,295.60) scale(0.0903,0.0971)" font-size="100" font-weight="bold" fill="#111" stroke="#111" stroke-width="1.49" stroke-linejoin="round" >r²=0.05; p = 0.67</text>
<text transform="translate(476.89,343.60) scale(0.0940,0.1000)" font-size="100" font-weight="bold" fill="#177c17" stroke="#177c17" stroke-width="1.44" stroke-linejoin="round" >r²=0.85</text>
<path d="M421.40,310.40 C422.43,310.67 426.10,311.50 427.60,312.00 C429.10,312.50 429.13,312.68 430.40,313.40 C431.67,314.12 433.28,315.10 435.20,316.30 C437.12,317.50 439.98,319.33 441.90,320.60 C443.82,321.87 445.10,322.78 446.70,323.90 C448.30,325.02 449.90,326.42 451.50,327.30 C453.10,328.18 455.03,328.80 456.30,329.20 C457.57,329.60 457.83,329.55 459.10,329.70 C460.37,329.85 462.45,330.07 463.90,330.10 C465.35,330.13 466.62,330.12 467.80,329.90 C468.98,329.68 469.30,329.70 471.00,328.80 C472.70,327.90 475.88,326.18 478.00,324.50 C480.12,322.82 481.92,320.98 483.70,318.70 C485.48,316.42 487.27,313.42 488.70,310.80 C490.13,308.18 491.27,305.50 492.30,303.00 C493.33,300.50 494.18,297.97 494.90,295.80 C495.62,293.63 496.32,290.97 496.60,290.00" fill="none" stroke="#177c17" stroke-width="1.5" stroke-linejoin="round" stroke-linecap="round"/>
<line x1="430.80" y1="295.20" x2="430.80" y2="315.00" stroke="#177c17" stroke-width="1.9" />
<line x1="428.10" y1="295.20" x2="433.50" y2="295.20" stroke="#177c17" stroke-width="1.9" />
<line x1="428.10" y1="315.00" x2="433.50" y2="315.00" stroke="#177c17" stroke-width="1.9" />
<circle cx="430.80" cy="305.00" r="2.6" fill="#177c17"/>
<line x1="446.60" y1="324.40" x2="446.60" y2="339.00" stroke="#177c17" stroke-width="1.9" />
<line x1="443.90" y1="324.40" x2="449.30" y2="324.40" stroke="#177c17" stroke-width="1.9" />
<line x1="443.90" y1="339.00" x2="449.30" y2="339.00" stroke="#177c17" stroke-width="1.9" />
<circle cx="446.60" cy="331.70" r="2.6" fill="#177c17"/>
<line x1="459.20" y1="319.20" x2="459.20" y2="329.50" stroke="#177c17" stroke-width="1.9" />
<line x1="456.50" y1="319.20" x2="461.90" y2="319.20" stroke="#177c17" stroke-width="1.9" />
<line x1="456.50" y1="329.50" x2="461.90" y2="329.50" stroke="#177c17" stroke-width="1.9" />
<circle cx="459.20" cy="324.50" r="2.6" fill="#177c17"/>
<line x1="496.60" y1="274.90" x2="496.60" y2="290.00" stroke="#177c17" stroke-width="1.9" />
<line x1="493.90" y1="274.90" x2="499.30" y2="274.90" stroke="#177c17" stroke-width="1.9" />
<line x1="493.90" y1="290.00" x2="499.30" y2="290.00" stroke="#177c17" stroke-width="1.9" />
<circle cx="496.60" cy="288.20" r="2.6" fill="#177c17"/>
<line x1="421.40" y1="302.00" x2="609.20" y2="307.70" stroke="#111" stroke-width="1.3" />
<line x1="421.40" y1="305.80" x2="421.40" y2="322.00" stroke="#111" stroke-width="1.9" />
<line x1="418.70" y1="305.80" x2="424.10" y2="305.80" stroke="#111" stroke-width="1.9" />
<line x1="418.70" y1="322.00" x2="424.10" y2="322.00" stroke="#111" stroke-width="1.9" />
<circle cx="421.40" cy="313.90" r="2.6" fill="#111"/>
<line x1="430.80" y1="300.10" x2="430.80" y2="314.90" stroke="#111" stroke-width="1.9" />
<line x1="428.10" y1="300.10" x2="433.50" y2="300.10" stroke="#111" stroke-width="1.9" />
<line x1="428.10" y1="314.90" x2="433.50" y2="314.90" stroke="#111" stroke-width="1.9" />
<circle cx="430.80" cy="306.60" r="2.6" fill="#111"/>
<line x1="446.60" y1="283.80" x2="446.60" y2="300.90" stroke="#111" stroke-width="1.9" />
<line x1="443.90" y1="283.80" x2="449.30" y2="283.80" stroke="#111" stroke-width="1.9" />
<line x1="443.90" y1="300.90" x2="449.30" y2="300.90" stroke="#111" stroke-width="1.9" />
<circle cx="446.60" cy="292.00" r="2.6" fill="#111"/>
<line x1="459.20" y1="289.90" x2="459.20" y2="309.20" stroke="#111" stroke-width="1.9" />
<line x1="456.50" y1="289.90" x2="461.90" y2="289.90" stroke="#111" stroke-width="1.9" />
<line x1="456.50" y1="309.20" x2="461.90" y2="309.20" stroke="#111" stroke-width="1.9" />
<circle cx="459.20" cy="299.40" r="2.6" fill="#111"/>
<line x1="496.50" y1="287.80" x2="496.50" y2="306.90" stroke="#111" stroke-width="1.9" />
<line x1="493.80" y1="287.80" x2="499.20" y2="287.80" stroke="#111" stroke-width="1.9" />
<line x1="493.80" y1="306.90" x2="499.20" y2="306.90" stroke="#111" stroke-width="1.9" />
<circle cx="496.50" cy="297.40" r="2.6" fill="#111"/>
<line x1="609.00" y1="304.80" x2="609.00" y2="319.00" stroke="#111" stroke-width="1.9" />
<line x1="606.30" y1="304.80" x2="611.70" y2="304.80" stroke="#111" stroke-width="1.9" />
<line x1="606.30" y1="319.00" x2="611.70" y2="319.00" stroke="#111" stroke-width="1.9" />
<circle cx="609.00" cy="311.80" r="2.6" fill="#111"/>
</svg>
</body></html>
